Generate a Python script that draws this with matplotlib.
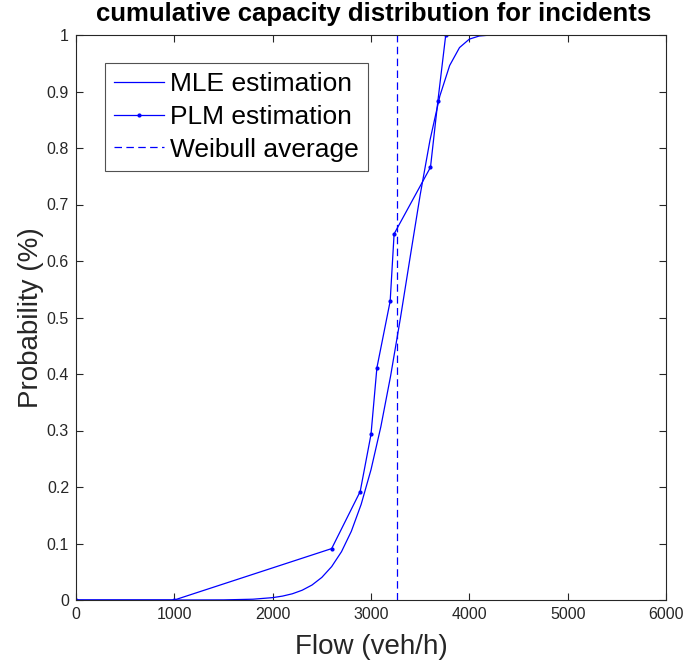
import matplotlib
matplotlib.use('Agg')
import matplotlib.pyplot as plt

plt.rcParams['font.family'] = ['Liberation Sans', 'DejaVu Sans']

# MLE estimated Weibull cdf
mle_flow = [0, 1000, 1500, 1800, 2000, 2100, 2200, 2300, 2400, 2500, 2600, 2700, 2800,
            2900, 3000, 3100, 3200, 3300, 3400, 3500, 3600, 3700, 3800, 3900, 4000,
            4100, 4200, 4400, 5000, 6000]
mle_prob = [0.0, 0.0, 0.0002, 0.0014, 0.0042, 0.0069, 0.011, 0.0173, 0.0265, 0.040,
            0.0591, 0.0855, 0.1216, 0.1693, 0.2306, 0.3066, 0.3971, 0.4998, 0.6089,
            0.7169, 0.814, 0.892, 0.9461, 0.9777, 0.9927, 0.9982, 0.9997, 1.0, 1.0, 1.0]

# PLM estimation points
plm_flow = [0, 1000, 2600, 2890, 3000, 3060, 3195, 3235, 3605, 3680, 3760]
plm_prob = [0.0, 0.0, 0.091, 0.192, 0.293, 0.411, 0.529, 0.648, 0.766, 0.883, 1.0]

weibull_avg = 3260

fig = plt.figure(figsize=(6.84, 6.63), dpi=100)
ax = fig.add_axes([76/684, 63/663, 590/684, 565/663])

ax.plot(mle_flow, mle_prob, '-', color='#0000ff', lw=0.9, label='MLE estimation')
ax.plot(plm_flow, plm_prob, '.-', color='#0000ff', lw=0.9, ms=4, label='PLM estimation')
ax.plot([weibull_avg, weibull_avg], [0, 1], '--', color='#0000ff', lw=0.9,
        dashes=(6, 3.5), label='Weibull average')

ax.set_xlim(0, 6000)
ax.set_ylim(0, 1)
ax.set_xticks(range(0, 6001, 1000))
ax.set_yticks([i/10 for i in range(11)])
ax.set_yticklabels(['0'] + ['%.1f' % (i/10) for i in range(1, 10)] + ['1'])
ax.tick_params(direction='in', top=True, right=True, labelsize=11.5, colors='#262626',
               length=5, width=0.8, pad=5)
for s in ax.spines.values():
    s.set_color('#262626')
    s.set_linewidth(0.8)

ax.set_xlabel('Flow (veh/h)', fontsize=20, color='#262626', labelpad=9)
ax.set_ylabel('Probability (%)', fontsize=20, color='#262626', labelpad=2)
ax.set_title('cumulative capacity distribution for incidents', fontsize=18.5,
             fontweight='bold', pad=10, x=0.505)

leg = ax.legend(loc='upper left', bbox_to_anchor=(29/590, 1 - 28/565), fontsize=19,
                frameon=True, fancybox=False, handlelength=1.9, handletextpad=0.2,
                borderpad=0.35, labelspacing=0.33, borderaxespad=0)
leg.get_frame().set_edgecolor('#262626')
leg.get_frame().set_linewidth(0.8)

fig.savefig('out.png', dpi=100)
